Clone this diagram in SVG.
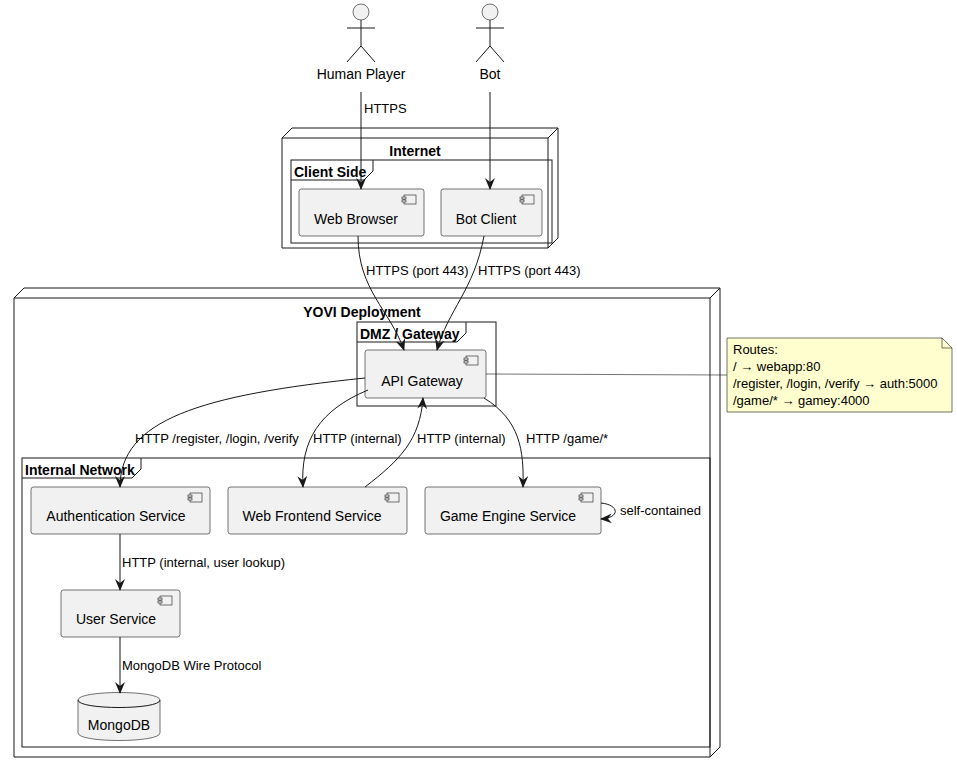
<svg xmlns="http://www.w3.org/2000/svg" width="957" height="772" viewBox="0 0 957 772">
<defs>
<marker id="ah" viewBox="0 0 12 10" refX="11" refY="5" markerWidth="12" markerHeight="10" markerUnits="userSpaceOnUse" orient="auto"><path d="M0,0 L12,5 L0,10 L4,5 Z" fill="#181818"/></marker>
<g id="icon"><rect x="0" y="0" width="12" height="9" fill="#f1f1f1" stroke="#181818" stroke-width="0.6"/><rect x="-2" y="2" width="4" height="2" fill="#f1f1f1" stroke="#181818" stroke-width="0.6"/><rect x="-2" y="5" width="4" height="2" fill="#f1f1f1" stroke="#181818" stroke-width="0.6"/></g>
</defs>
<style>
text{font-family:"Liberation Sans",Arial,sans-serif;fill:#000}
.n{font-size:14px}
.t{font-size:14px;font-weight:bold}
.l{font-size:13px}
.comp{fill:#f1f1f1;stroke:#181818;stroke-width:0.6}
.box{fill:none;stroke:#181818;stroke-width:1}
.e{fill:none;stroke:#181818;stroke-width:1;marker-end:url(#ah)}
</style>
<rect width="957" height="772" fill="#fff"/>
<g id="internet">
<path class="box" d="M282,138 L292,128 L558,128 L558,238 L548,248 M548,138 L558,128 M282,138 L548,138 L548,248 L282,248 Z"/>
<text class="t" x="415" y="156" text-anchor="middle">Internet</text>
</g>
<g id="clientside">
<rect class="box" x="291" y="160" width="261" height="83"/>
<path class="box" d="M291,180 L364,180 L373,171 L373,160"/>
<text class="t" x="294" y="177">Client Side</text>
</g>
<g id="yovi">
<path class="box" d="M14,298 L24,288 L720,288 L720,747 L710,757 M710,298 L720,288 M14,298 L710,298 L710,757 L14,757 Z"/>
<text class="t" x="362" y="317" text-anchor="middle">YOVI Deployment</text>
</g>
<g id="dmz">
<rect class="box" x="357" y="322" width="139" height="84"/>
<path class="box" d="M357,342 L457,342 L466,333 L466,322"/>
<text class="t" x="360" y="339">DMZ / Gateway</text>
</g>
<g id="internal">
<rect class="box" x="22" y="458" width="688" height="289"/>
<path class="box" d="M22,478 L132,478 L141,469 L141,458"/>
<text class="t" x="25" y="475">Internal Network</text>
</g>
<g id="human">
<circle cx="361" cy="12" r="8" class="comp"/>
<path class="box" d="M361,20 V46 M347,28 H375 M361,46 L347,62 M361,46 L375,62"/>
<text class="n" x="361" y="79" text-anchor="middle">Human Player</text>
</g>
<g id="bot">
<circle cx="490" cy="12" r="8" class="comp"/>
<path class="box" d="M490,20 V46 M476,28 H504 M490,46 L476,62 M490,46 L504,62"/>
<text class="n" x="490" y="79" text-anchor="middle">Bot</text>
</g>
<g id="webbrowser"><rect class="comp" x="299" y="189" width="125" height="47" rx="2.5"/><use href="#icon" x="404" y="195"/><text class="n" x="356" y="224" text-anchor="middle">Web Browser</text></g>
<g id="botclient"><rect class="comp" x="441" y="189" width="101" height="47" rx="2.5"/><use href="#icon" x="522" y="195"/><text class="n" x="486" y="224" text-anchor="middle">Bot Client</text></g>
<g id="apigateway"><rect class="comp" x="365" y="350" width="121" height="48" rx="2.5"/><use href="#icon" x="466" y="356"/><text class="n" x="422" y="386" text-anchor="middle">API Gateway</text></g>
<g id="auth"><rect class="comp" x="31" y="487" width="179" height="47" rx="2.5"/><use href="#icon" x="190" y="493"/><text class="n" x="116" y="521" text-anchor="middle">Authentication Service</text></g>
<g id="webfrontend"><rect class="comp" x="228" y="487" width="179" height="47" rx="2.5"/><use href="#icon" x="387" y="493"/><text class="n" x="312" y="521" text-anchor="middle">Web Frontend Service</text></g>
<g id="game"><rect class="comp" x="425" y="487" width="176" height="47" rx="2.5"/><use href="#icon" x="581" y="493"/><text class="n" x="508" y="521" text-anchor="middle">Game Engine Service</text></g>
<g id="user"><rect class="comp" x="61" y="590" width="119" height="47" rx="2.5"/><use href="#icon" x="160" y="596"/><text class="n" x="116" y="624" text-anchor="middle">User Service</text></g>
<g id="mongodb">
<path class="comp" d="M78,700 C78,690 160,690 160,700 L160,733 C160,743 78,743 78,733 Z"/>
<path class="box" d="M78,700 C78,710 160,710 160,700" stroke-width="0.6"/>
<text class="n" x="119" y="730" text-anchor="middle">MongoDB</text>
</g>
<g id="note">
<path d="M727,338 L942,338 L952,348 L952,412 L727,412 Z" fill="#fefece" stroke="#181818" stroke-width="0.6"/>
<path d="M942,338 L942,348 L952,348" fill="none" stroke="#181818" stroke-width="0.6"/>
<text class="l" x="733" y="354">Routes:</text>
<text class="l" x="733" y="371">/ → webapp:80</text>
<text class="l" x="733" y="388">/register, /login, /verify → auth:5000</text>
<text class="l" x="733" y="405">/game/* → gamey:4000</text>
</g>
<g id="connectors">
<path class="e" d="M361,92 V189"/>
<text class="l" x="364" y="113">HTTPS</text>
<path class="e" d="M490,92 V189"/>
<path class="e" d="M358,236 C358,290 390,310 404,350"/>
<text class="l" x="366" y="275">HTTPS (port 443)</text>
<path class="e" d="M484,236 C474,290 448,310 437,350"/>
<text class="l" x="478" y="275">HTTPS (port 443)</text>
<path d="M486,374 L727,375" stroke="#181818" stroke-width="0.6" fill="none"/>
<path class="e" d="M365,378 C200,395 120,420 120,487"/>
<text class="l" x="135" y="443">HTTP /register, /login, /verify</text>
<path class="e" d="M368,390 C320,410 300,440 303,487"/>
<text class="l" x="313" y="443">HTTP (internal)</text>
<path class="e" d="M365,487 C400,460 420,440 423,398"/>
<text class="l" x="417" y="443">HTTP (internal)</text>
<path class="e" d="M484,398 C520,420 524,450 523,487"/>
<text class="l" x="526" y="443">HTTP /game/*</text>
<path class="e" d="M601,503 C620,505 620,518 601,519"/>
<text class="l" x="620" y="515">self-contained</text>
<path class="e" d="M120,534 V590"/>
<text class="l" x="122" y="567">HTTP (internal, user lookup)</text>
<path class="e" d="M120,637 V693"/>
<text class="l" x="122" y="670">MongoDB Wire Protocol</text>
</g>
</svg>
